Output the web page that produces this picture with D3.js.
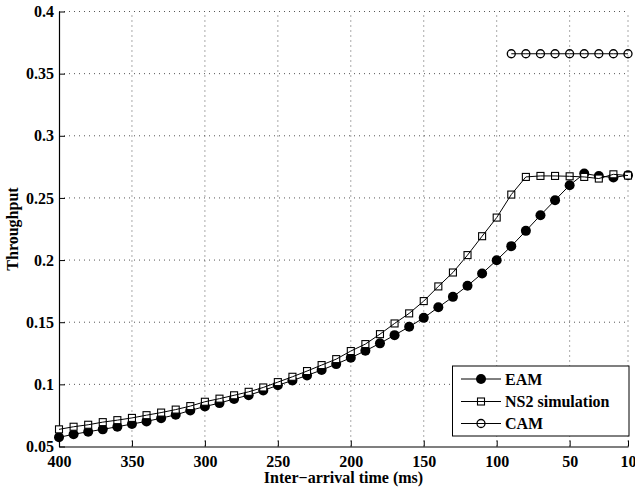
<!DOCTYPE html>
<html><head><meta charset="utf-8">
<script src="https://cdn.jsdelivr.net/npm/d3@7"></script>
<style>
html,body{margin:0;padding:0;background:#fff;}
svg{display:block;}
text{font-family:"Liberation Serif","Times New Roman",serif;font-weight:bold;fill:#000;}
</style></head>
<body>
<svg id="c" width="635" height="490"></svg>
<script>
const xValues = [400,390,380,370,360,350,340,330,320,310,300,290,280,270,260,250,240,230,220,210,200,190,180,170,160,150,140,130,120,110,100,90,80,70,60,50,40,30,20,10];
const eam = [0.0574,0.0598,0.0619,0.0638,0.0659,0.0681,0.0702,0.0728,0.0755,0.0790,0.0822,0.0849,0.0883,0.0913,0.0950,0.0993,0.1031,0.1072,0.1115,0.1163,0.1214,0.1270,0.1330,0.1396,0.1463,0.1535,0.1620,0.1704,0.1793,0.1892,0.1999,0.2112,0.2235,0.2361,0.2482,0.2602,0.2696,0.2677,0.2664,0.2683];
const ns2 = [0.0638,0.0659,0.0675,0.0696,0.0712,0.0730,0.0752,0.0773,0.0797,0.0825,0.0860,0.0885,0.0912,0.0940,0.0975,0.1018,0.1061,0.1107,0.1155,0.1203,0.1268,0.1324,0.1404,0.1490,0.1571,0.1670,0.1788,0.1900,0.2040,0.2192,0.2342,0.2527,0.2669,0.2677,0.2677,0.2674,0.2669,0.2656,0.2690,0.2680];
const camX = [90,80,70,60,50,40,30,20,10];
const cam = [0.366,0.366,0.366,0.366,0.366,0.366,0.366,0.366,0.366];
const xTicks = [400,350,300,250,200,150,100,50,10];
const yTicks = [0.05,0.1,0.15,0.2,0.25,0.3,0.35,0.4];
const seriesNames = ["EAM","NS2 simulation","CAM"];
const xTitle = "Inter\u2212arrival time (ms)";
const yTitle = "Throughput";

const svg = d3.select("#c");
const L=59, R=628, T=11.5, B=446.5;
const x = d3.scaleLinear().domain([400,10]).range([L,R]);
const y = d3.scaleLinear().domain([0.05,0.4]).range([B,T]);

// grid
const g = svg.append("g");
g.selectAll("line.vx").data(xTicks.filter(d=>d!==400)).enter().append("line")
  .attr("x1",d=>x(d)).attr("x2",d=>x(d)).attr("y1",B).attr("y2",T)
  .attr("stroke","#555").attr("stroke-width",1).attr("stroke-dasharray","1,4");
g.selectAll("line.hy").data(yTicks.filter(d=>d!==0.05)).enter().append("line")
  .attr("y1",d=>y(d)).attr("y2",d=>y(d)).attr("x1",L).attr("x2",R)
  .attr("stroke","#555").attr("stroke-width",1).attr("stroke-dasharray","1,4");

// axes
const xa = svg.append("g").attr("transform",`translate(0,${B})`)
  .call(d3.axisBottom(x).tickValues(xTicks).tickSizeInner(-6).tickSizeOuter(0).tickPadding(9).tickFormat(d3.format("d")));
const ya = svg.append("g").attr("transform",`translate(${L},0)`)
  .call(d3.axisLeft(y).tickValues(yTicks).tickSizeInner(-6).tickSizeOuter(0).tickPadding(5).tickFormat(d=>String(+d.toFixed(2))));
[xa,ya].forEach(a=>{
  a.select(".domain").attr("stroke","#000").attr("stroke-width",1.2);
  a.selectAll(".tick line").attr("stroke","#000");
  a.selectAll("text").style("font-family",'"Liberation Serif",serif').style("font-weight","bold").style("font-size","16px").attr("fill","#000");
});

const line = d3.line().x(d=>x(d[0])).y(d=>y(d[1]));
const eamD = xValues.map((v,i)=>[v,eam[i]]);
const ns2D = xValues.map((v,i)=>[v,ns2[i]]);
const camD = camX.map((v,i)=>[v,cam[i]]);

// EAM
svg.append("path").attr("d",line(eamD)).attr("fill","none").attr("stroke","#000").attr("stroke-width",1);
svg.selectAll("circle.eam").data(eamD).enter().append("circle")
  .attr("cx",d=>x(d[0])).attr("cy",d=>y(d[1])).attr("r",5).attr("fill","#000");
// NS2
const sq=7;
svg.selectAll("rect.ns2").data(ns2D).enter().append("rect")
  .attr("x",d=>x(d[0])-sq/2).attr("y",d=>y(d[1])-sq/2).attr("width",sq).attr("height",sq)
  .attr("fill","#fff").attr("stroke","#000").attr("stroke-width",1.1);
svg.append("path").attr("d",line(ns2D)).attr("fill","none").attr("stroke","#000").attr("stroke-width",1);
// CAM
svg.append("path").attr("d",line(camD)).attr("fill","none").attr("stroke","#000").attr("stroke-width",1);
svg.selectAll("circle.cam").data(camD).enter().append("circle")
  .attr("cx",d=>x(d[0])).attr("cy",d=>y(d[1])).attr("r",4).attr("fill","none").attr("stroke","#000").attr("stroke-width",1.3);

// titles
svg.append("text").attr("x",(L+R)/2).attr("y",483).attr("text-anchor","middle").style("font-size","16px").text(xTitle);
svg.append("text").attr("transform",`translate(18,${(T+B)/2}) rotate(-90)`).attr("text-anchor","middle").style("font-size","16px").text(yTitle);

// legend
const lg = svg.append("g");
lg.append("rect").attr("x",452.5).attr("y",366).attr("width",176.5).attr("height",70).attr("fill","#fff").attr("stroke","#000").attr("stroke-width",1);
const rows=[379,401.5,423.5];
seriesNames.forEach((n,i)=>{
  const ry=rows[i];
  lg.append("line").attr("x1",461).attr("x2",501).attr("y1",ry).attr("y2",ry).attr("stroke","#000").attr("stroke-width",1);
  if(i===0) lg.append("circle").attr("cx",481).attr("cy",ry).attr("r",5).attr("fill","#000");
  if(i===1) lg.append("rect").attr("x",481-sq/2).attr("y",ry-sq/2).attr("width",sq).attr("height",sq).attr("fill","none").attr("stroke","#000").attr("stroke-width",1.1);
  if(i===2) lg.append("circle").attr("cx",481).attr("cy",ry).attr("r",4).attr("fill","none").attr("stroke","#000").attr("stroke-width",1.3);
  lg.append("text").attr("x",505).attr("y",ry+5.5).style("font-size","16px").text(n);
});
</script>
</body></html>
